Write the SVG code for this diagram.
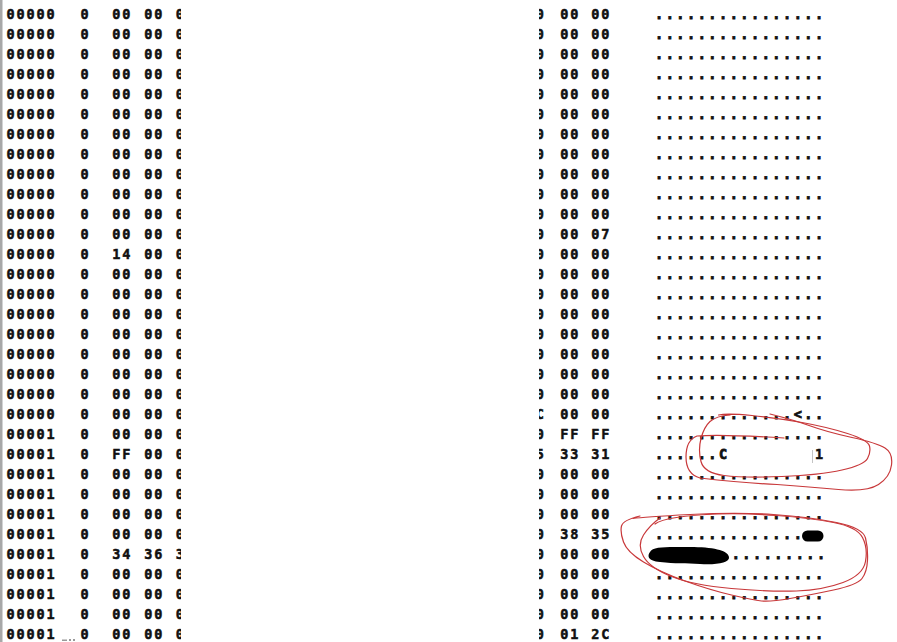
<svg xmlns="http://www.w3.org/2000/svg" width="897" height="642" viewBox="0 0 897 642">
<style>
text{font-family:"DejaVu Sans Mono","Liberation Mono",monospace;font-size:13.5px;font-weight:bold;fill:#111;stroke:#111;stroke-width:0.5px}
.h{letter-spacing:1.9px}
.a{letter-spacing:2.54px;stroke-width:0.8px}
.pen{fill:none;stroke:#c8383a;stroke-width:1.2;stroke-linecap:round;stroke-linejoin:round}
</style>
<defs>
<clipPath id="cl"><rect x="170" y="0" width="11" height="642"/></clipPath>
<clipPath id="cr"><rect x="539" y="0" width="12" height="642"/></clipPath>
</defs>
<rect width="897" height="642" fill="#fff"/>
<rect x="0" y="0" width="2.5" height="642" fill="#a8a8a8"/>
<g id="address">
<text class="h"><tspan x="6.5" y="19">00000</tspan><tspan x="6.5" dy="20">00000</tspan><tspan x="6.5" dy="20">00000</tspan><tspan x="6.5" dy="20">00000</tspan><tspan x="6.5" dy="20">00000</tspan><tspan x="6.5" dy="20">00000</tspan><tspan x="6.5" dy="20">00000</tspan><tspan x="6.5" dy="20">00000</tspan><tspan x="6.5" dy="20">00000</tspan><tspan x="6.5" dy="20">00000</tspan><tspan x="6.5" dy="20">00000</tspan><tspan x="6.5" dy="20">00000</tspan><tspan x="6.5" dy="20">00000</tspan><tspan x="6.5" dy="20">00000</tspan><tspan x="6.5" dy="20">00000</tspan><tspan x="6.5" dy="20">00000</tspan><tspan x="6.5" dy="20">00000</tspan><tspan x="6.5" dy="20">00000</tspan><tspan x="6.5" dy="20">00000</tspan><tspan x="6.5" dy="20">00000</tspan><tspan x="6.5" dy="20">00000</tspan><tspan x="6.5" dy="20">00001</tspan><tspan x="6.5" dy="20">00001</tspan><tspan x="6.5" dy="20">00001</tspan><tspan x="6.5" dy="20">00001</tspan><tspan x="6.5" dy="20">00001</tspan><tspan x="6.5" dy="20">00001</tspan><tspan x="6.5" dy="20">00001</tspan><tspan x="6.5" dy="20">00001</tspan><tspan x="6.5" dy="20">00001</tspan><tspan x="6.5" dy="20">00001</tspan><tspan x="6.5" dy="20">00001</tspan></text>
</g>
<g id="col0">
<text><tspan x="80.5" y="19">0</tspan><tspan x="80.5" dy="20">0</tspan><tspan x="80.5" dy="20">0</tspan><tspan x="80.5" dy="20">0</tspan><tspan x="80.5" dy="20">0</tspan><tspan x="80.5" dy="20">0</tspan><tspan x="80.5" dy="20">0</tspan><tspan x="80.5" dy="20">0</tspan><tspan x="80.5" dy="20">0</tspan><tspan x="80.5" dy="20">0</tspan><tspan x="80.5" dy="20">0</tspan><tspan x="80.5" dy="20">0</tspan><tspan x="80.5" dy="20">0</tspan><tspan x="80.5" dy="20">0</tspan><tspan x="80.5" dy="20">0</tspan><tspan x="80.5" dy="20">0</tspan><tspan x="80.5" dy="20">0</tspan><tspan x="80.5" dy="20">0</tspan><tspan x="80.5" dy="20">0</tspan><tspan x="80.5" dy="20">0</tspan><tspan x="80.5" dy="20">0</tspan><tspan x="80.5" dy="20">0</tspan><tspan x="80.5" dy="20">0</tspan><tspan x="80.5" dy="20">0</tspan><tspan x="80.5" dy="20">0</tspan><tspan x="80.5" dy="20">0</tspan><tspan x="80.5" dy="20">0</tspan><tspan x="80.5" dy="20">0</tspan><tspan x="80.5" dy="20">0</tspan><tspan x="80.5" dy="20">0</tspan><tspan x="80.5" dy="20">0</tspan><tspan x="80.5" dy="20">0</tspan></text>
<rect x="62" y="639.5" width="5" height="1.5" fill="#999"/><rect x="69" y="639" width="2" height="2" fill="#999"/><rect x="73" y="639" width="2" height="2" fill="#999"/>
</g>
<g id="left-bytes">
<text class="h"><tspan x="112.3" y="19">00</tspan><tspan x="112.3" dy="20">00</tspan><tspan x="112.3" dy="20">00</tspan><tspan x="112.3" dy="20">00</tspan><tspan x="112.3" dy="20">00</tspan><tspan x="112.3" dy="20">00</tspan><tspan x="112.3" dy="20">00</tspan><tspan x="112.3" dy="20">00</tspan><tspan x="112.3" dy="20">00</tspan><tspan x="112.3" dy="20">00</tspan><tspan x="112.3" dy="20">00</tspan><tspan x="112.3" dy="20">00</tspan><tspan x="112.3" dy="20">14</tspan><tspan x="112.3" dy="20">00</tspan><tspan x="112.3" dy="20">00</tspan><tspan x="112.3" dy="20">00</tspan><tspan x="112.3" dy="20">00</tspan><tspan x="112.3" dy="20">00</tspan><tspan x="112.3" dy="20">00</tspan><tspan x="112.3" dy="20">00</tspan><tspan x="112.3" dy="20">00</tspan><tspan x="112.3" dy="20">00</tspan><tspan x="112.3" dy="20">FF</tspan><tspan x="112.3" dy="20">00</tspan><tspan x="112.3" dy="20">00</tspan><tspan x="112.3" dy="20">00</tspan><tspan x="112.3" dy="20">00</tspan><tspan x="112.3" dy="20">34</tspan><tspan x="112.3" dy="20">00</tspan><tspan x="112.3" dy="20">00</tspan><tspan x="112.3" dy="20">00</tspan><tspan x="112.3" dy="20">00</tspan></text>
<text class="h"><tspan x="144.3" y="19">00</tspan><tspan x="144.3" dy="20">00</tspan><tspan x="144.3" dy="20">00</tspan><tspan x="144.3" dy="20">00</tspan><tspan x="144.3" dy="20">00</tspan><tspan x="144.3" dy="20">00</tspan><tspan x="144.3" dy="20">00</tspan><tspan x="144.3" dy="20">00</tspan><tspan x="144.3" dy="20">00</tspan><tspan x="144.3" dy="20">00</tspan><tspan x="144.3" dy="20">00</tspan><tspan x="144.3" dy="20">00</tspan><tspan x="144.3" dy="20">00</tspan><tspan x="144.3" dy="20">00</tspan><tspan x="144.3" dy="20">00</tspan><tspan x="144.3" dy="20">00</tspan><tspan x="144.3" dy="20">00</tspan><tspan x="144.3" dy="20">00</tspan><tspan x="144.3" dy="20">00</tspan><tspan x="144.3" dy="20">00</tspan><tspan x="144.3" dy="20">00</tspan><tspan x="144.3" dy="20">00</tspan><tspan x="144.3" dy="20">00</tspan><tspan x="144.3" dy="20">00</tspan><tspan x="144.3" dy="20">00</tspan><tspan x="144.3" dy="20">00</tspan><tspan x="144.3" dy="20">00</tspan><tspan x="144.3" dy="20">36</tspan><tspan x="144.3" dy="20">00</tspan><tspan x="144.3" dy="20">00</tspan><tspan x="144.3" dy="20">00</tspan><tspan x="144.3" dy="20">00</tspan></text>
<text clip-path="url(#cl)"><tspan x="175.8" y="19">0</tspan><tspan x="175.8" dy="20">0</tspan><tspan x="175.8" dy="20">0</tspan><tspan x="175.8" dy="20">0</tspan><tspan x="175.8" dy="20">0</tspan><tspan x="175.8" dy="20">0</tspan><tspan x="175.8" dy="20">0</tspan><tspan x="175.8" dy="20">0</tspan><tspan x="175.8" dy="20">0</tspan><tspan x="175.8" dy="20">0</tspan><tspan x="175.8" dy="20">0</tspan><tspan x="175.8" dy="20">0</tspan><tspan x="175.8" dy="20">0</tspan><tspan x="175.8" dy="20">0</tspan><tspan x="175.8" dy="20">0</tspan><tspan x="175.8" dy="20">0</tspan><tspan x="175.8" dy="20">0</tspan><tspan x="175.8" dy="20">0</tspan><tspan x="175.8" dy="20">0</tspan><tspan x="175.8" dy="20">0</tspan><tspan x="175.8" dy="20">0</tspan><tspan x="175.8" dy="20">0</tspan><tspan x="175.8" dy="20">0</tspan><tspan x="175.8" dy="20">0</tspan><tspan x="175.8" dy="20">0</tspan><tspan x="175.8" dy="20">0</tspan><tspan x="175.8" dy="20">0</tspan><tspan x="175.8" dy="20">3</tspan><tspan x="175.8" dy="20">0</tspan><tspan x="175.8" dy="20">0</tspan><tspan x="175.8" dy="20">0</tspan><tspan x="175.8" dy="20">0</tspan></text>
</g>
<g id="right-bytes">
<text clip-path="url(#cr)"><tspan x="535.8" y="19">0</tspan><tspan x="535.8" dy="20">0</tspan><tspan x="535.8" dy="20">0</tspan><tspan x="535.8" dy="20">0</tspan><tspan x="535.8" dy="20">0</tspan><tspan x="535.8" dy="20">0</tspan><tspan x="535.8" dy="20">0</tspan><tspan x="535.8" dy="20">0</tspan><tspan x="535.8" dy="20">0</tspan><tspan x="535.8" dy="20">0</tspan><tspan x="535.8" dy="20">0</tspan><tspan x="535.8" dy="20">0</tspan><tspan x="535.8" dy="20">0</tspan><tspan x="535.8" dy="20">0</tspan><tspan x="535.8" dy="20">0</tspan><tspan x="535.8" dy="20">0</tspan><tspan x="535.8" dy="20">0</tspan><tspan x="535.8" dy="20">0</tspan><tspan x="535.8" dy="20">0</tspan><tspan x="535.8" dy="20">0</tspan><tspan x="535.8" dy="20">C</tspan><tspan x="535.8" dy="20">0</tspan><tspan x="535.8" dy="20">5</tspan><tspan x="535.8" dy="20">0</tspan><tspan x="535.8" dy="20">0</tspan><tspan x="535.8" dy="20">0</tspan><tspan x="535.8" dy="20">0</tspan><tspan x="535.8" dy="20">0</tspan><tspan x="535.8" dy="20">0</tspan><tspan x="535.8" dy="20">0</tspan><tspan x="535.8" dy="20">0</tspan><tspan x="535.8" dy="20">0</tspan></text>
<text class="h"><tspan x="560.3" y="19">00</tspan><tspan x="560.3" dy="20">00</tspan><tspan x="560.3" dy="20">00</tspan><tspan x="560.3" dy="20">00</tspan><tspan x="560.3" dy="20">00</tspan><tspan x="560.3" dy="20">00</tspan><tspan x="560.3" dy="20">00</tspan><tspan x="560.3" dy="20">00</tspan><tspan x="560.3" dy="20">00</tspan><tspan x="560.3" dy="20">00</tspan><tspan x="560.3" dy="20">00</tspan><tspan x="560.3" dy="20">00</tspan><tspan x="560.3" dy="20">00</tspan><tspan x="560.3" dy="20">00</tspan><tspan x="560.3" dy="20">00</tspan><tspan x="560.3" dy="20">00</tspan><tspan x="560.3" dy="20">00</tspan><tspan x="560.3" dy="20">00</tspan><tspan x="560.3" dy="20">00</tspan><tspan x="560.3" dy="20">00</tspan><tspan x="560.3" dy="20">00</tspan><tspan x="560.3" dy="20">FF</tspan><tspan x="560.3" dy="20">33</tspan><tspan x="560.3" dy="20">00</tspan><tspan x="560.3" dy="20">00</tspan><tspan x="560.3" dy="20">00</tspan><tspan x="560.3" dy="20">38</tspan><tspan x="560.3" dy="20">00</tspan><tspan x="560.3" dy="20">00</tspan><tspan x="560.3" dy="20">00</tspan><tspan x="560.3" dy="20">00</tspan><tspan x="560.3" dy="20">01</tspan></text>
<text class="h"><tspan x="591.3" y="19">00</tspan><tspan x="591.3" dy="20">00</tspan><tspan x="591.3" dy="20">00</tspan><tspan x="591.3" dy="20">00</tspan><tspan x="591.3" dy="20">00</tspan><tspan x="591.3" dy="20">00</tspan><tspan x="591.3" dy="20">00</tspan><tspan x="591.3" dy="20">00</tspan><tspan x="591.3" dy="20">00</tspan><tspan x="591.3" dy="20">00</tspan><tspan x="591.3" dy="20">00</tspan><tspan x="591.3" dy="20">07</tspan><tspan x="591.3" dy="20">00</tspan><tspan x="591.3" dy="20">00</tspan><tspan x="591.3" dy="20">00</tspan><tspan x="591.3" dy="20">00</tspan><tspan x="591.3" dy="20">00</tspan><tspan x="591.3" dy="20">00</tspan><tspan x="591.3" dy="20">00</tspan><tspan x="591.3" dy="20">00</tspan><tspan x="591.3" dy="20">00</tspan><tspan x="591.3" dy="20">FF</tspan><tspan x="591.3" dy="20">31</tspan><tspan x="591.3" dy="20">00</tspan><tspan x="591.3" dy="20">00</tspan><tspan x="591.3" dy="20">00</tspan><tspan x="591.3" dy="20">35</tspan><tspan x="591.3" dy="20">00</tspan><tspan x="591.3" dy="20">00</tspan><tspan x="591.3" dy="20">00</tspan><tspan x="591.3" dy="20">00</tspan><tspan x="591.3" dy="20">2C</tspan></text>
</g>
<g id="ascii">
<text class="a"><tspan x="655" y="19">................</tspan><tspan x="655" dy="20">................</tspan><tspan x="655" dy="20">................</tspan><tspan x="655" dy="20">................</tspan><tspan x="655" dy="20">................</tspan><tspan x="655" dy="20">................</tspan><tspan x="655" dy="20">................</tspan><tspan x="655" dy="20">................</tspan><tspan x="655" dy="20">................</tspan><tspan x="655" dy="20">................</tspan><tspan x="655" dy="20">................</tspan><tspan x="655" dy="20">................</tspan><tspan x="655" dy="20">................</tspan><tspan x="655" dy="20">................</tspan><tspan x="655" dy="20">................</tspan><tspan x="655" dy="20">................</tspan><tspan x="655" dy="20">................</tspan><tspan x="655" dy="20">................</tspan><tspan x="655" dy="20">................</tspan><tspan x="655" dy="20">................</tspan><tspan x="655" dy="20">.............&lt;..</tspan><tspan x="655" dy="20">................</tspan><tspan x="655" dy="20">......C</tspan><tspan x="655" dy="20">................</tspan><tspan x="655" dy="20">................</tspan><tspan x="655" dy="20">................</tspan><tspan x="655" dy="20">..............</tspan><tspan x="731.7" dy="20">.........</tspan><tspan x="655" dy="20">................</tspan><tspan x="655" dy="20">................</tspan><tspan x="655" dy="20">................</tspan><tspan x="655" dy="20">................</tspan></text>
<text x="815" y="459">1</text>
<line x1="812.5" y1="450" x2="812.5" y2="463" stroke="#c4c4c4" stroke-width="1"/>
<rect x="802" y="530.5" width="21.5" height="11" rx="5.5" fill="#000"/>
<path d="M650,552 C653,546 668,547 690,547 C712,547 728,550 729,557 C730,563 716,565 700,564 C686,563 675,564 660,562 C648,561 647,556 650,552 Z" fill="#000"/>
</g>
<g id="annotations">
<path class="pen" d="M718.5,415 Q727,413 752,415.5 Q777,418 802,422.5 Q827,427 847.5,433.5 Q868,440 869.5,446 Q871,452 867.5,458.5 Q864,465 842,470 Q820,475 782,476.5 Q744,478 724,475.5 Q704,473 701,461.5 Q698,450 701,438.5 Q704,427 710,421.5 Q716,416 730,415"/>
<path class="pen" d="M784,438 Q720,434 697,436 Q686,440 686,457 Q686,474 700,478 Q744,483 777,484.5 Q810,487 838.5,489.5 Q867,492 878.5,484.5 Q890,477 891.5,465 Q893,453 885,448 Q877,443 852,437.5 Q827,432 810.5,426 Q794,420 770,414"/>
<path class="pen" d="M633,518.5 Q643,517 690,514.5 Q737,512 773.5,514.5 Q810,517 836.5,522.5 Q863,528 865.5,538 Q868,548 867.5,560 Q867,572 862,578.5 Q857,585 833.5,590 Q810,595 790,598.5 Q770,602 761.5,601 Q753,600 731.5,595 Q710,590 685,581 Q660,572 643.5,562 Q627,552 623.5,542 Q620,532 621.5,526 Q623,520 640,516"/>
<path class="pen" d="M660,518 Q650,525 643.5,535 Q637,545 643.5,556.5 Q650,568 671.5,576.5 Q693,585 731.5,588.5 Q770,592 796.5,591 Q823,590 843,582.5 Q863,575 865.5,561.5 Q868,548 862.5,537.5 Q857,527 833.5,522.5 Q810,518 776.5,515.5 Q743,513 718,514 Q693,515 676.5,517.5 Q660,520 655,524"/>
</g>
</svg>
